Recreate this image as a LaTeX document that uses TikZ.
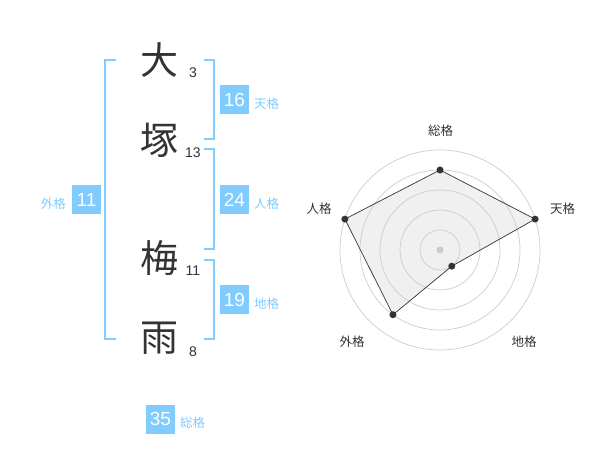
\documentclass[tikz,border=0pt]{standalone}
\usepackage{fontspec}
\usetikzlibrary{calc}
\setmainfont{Liberation Sans}
\newfontfamily\cjk{Noto Sans CJK JP}
\definecolor{sky}{HTML}{80CCFF}
\definecolor{ink}{HTML}{333333}
\definecolor{ring}{HTML}{CCCCCC}
\definecolor{fillg}{HTML}{E6E6E6}
\begin{document}
\begin{tikzpicture}[x=1pt,y=-1pt,
  bigch/.style={font=\cjk\fontsize{38}{38}\selectfont, text=ink, inner sep=0pt},
  strokenum/.style={font=\fontsize{14}{14}\selectfont, text=ink, inner sep=0pt},
  numbox/.style={fill=sky, text=white, minimum width=29pt, minimum height=29pt, inner sep=0pt, font=\fontsize{19}{19}\selectfont},
  kaku/.style={font=\cjk\fontsize{12.5}{12.5}\selectfont, text=sky, inner sep=0pt},
  bracket/.style={draw=sky, line width=2pt},
  axislabel/.style={font=\cjk\fontsize{12.5}{12.5}\selectfont, text=ink, inner sep=0pt},
  ringstyle/.style={draw=ring, line width=0.7pt},
  dot/.style={circle, fill=ink, minimum size=7pt, inner sep=0pt}]
\useasboundingbox (0,0) rectangle (600,470);
% characters
\node[bigch] (c1) at (159,60) {大};
\node[bigch] (c2) at (159,140) {塚};
\node[bigch] (c3) at (159,258) {梅};
\node[bigch] (c4) at (159,338) {雨};
\node[strokenum] (n1) at (193,73) {3};
\node[strokenum] (n2) at (193,153) {13};
\node[strokenum] (n3) at (193,271) {11};
\node[strokenum] (n4) at (193,352) {8};
% brackets
\draw[bracket] (116,60) -- (105,60) -- (105,339) -- (116,339);
\draw[bracket] (204,60) -- (214,60) -- (214,139) -- (204,139);
\draw[bracket] (204,149) -- (214,149) -- (214,249) -- (204,249);
\draw[bracket] (204,260) -- (214,260) -- (214,339) -- (204,339);
% boxes
\node[numbox] (b16) at (234.5,100) {16};
\node[kaku, anchor=west] (l16) at (254,104) {天格};
\node[numbox] (b24) at (234.5,200) {24};
\node[kaku, anchor=west] (l24) at (254,204) {人格};
\node[numbox] (b11) at (86.5,200) {11};
\node[kaku, anchor=east] (l11) at (66,204) {外格};
\node[numbox] (b19) at (234.5,300) {19};
\node[kaku, anchor=west] (l19) at (254,304) {地格};
\node[numbox] (b35) at (160.5,419) {35};
\node[kaku, anchor=west] (l35) at (180,423) {総格};
% radar
\coordinate (ctr) at (440,250);
\coordinate (pS) at ($(ctr)+(0,-80)$);
\coordinate (pT) at ($(ctr)+({100*cos(18)},{-100*sin(18)})$);
\coordinate (pC) at ($(ctr)+({20*cos(54)},{20*sin(54)})$);
\coordinate (pG) at ($(ctr)+({-80*cos(54)},{80*sin(54)})$);
\coordinate (pJ) at ($(ctr)+({-100*cos(18)},{-100*sin(18)})$);
\fill[fillg, fill opacity=0.6] (pS) -- (pT) -- (pC) -- (pG) -- (pJ) -- cycle;
\foreach \r in {20,40,60,80,100} \draw[ringstyle] (ctr) circle (\r);
\fill[ring] (ctr) circle (3.5);
\draw[ink, line width=0.7pt] (pS) -- (pT) -- (pC) -- (pG) -- (pJ) -- cycle;
\foreach \p in {pS,pT,pC,pG,pJ} \node[dot] at (\p) {};
\node[axislabel] (aS) at (440.5,130.5) {総格};
\node[axislabel] (aT) at (562.5,208.5) {天格};
\node[axislabel] (aJ) at (319,208.5) {人格};
\node[axislabel] (aG) at (352,341.5) {外格};
\node[axislabel] (aC) at (524,341.5) {地格};
\end{tikzpicture}
\end{document}
